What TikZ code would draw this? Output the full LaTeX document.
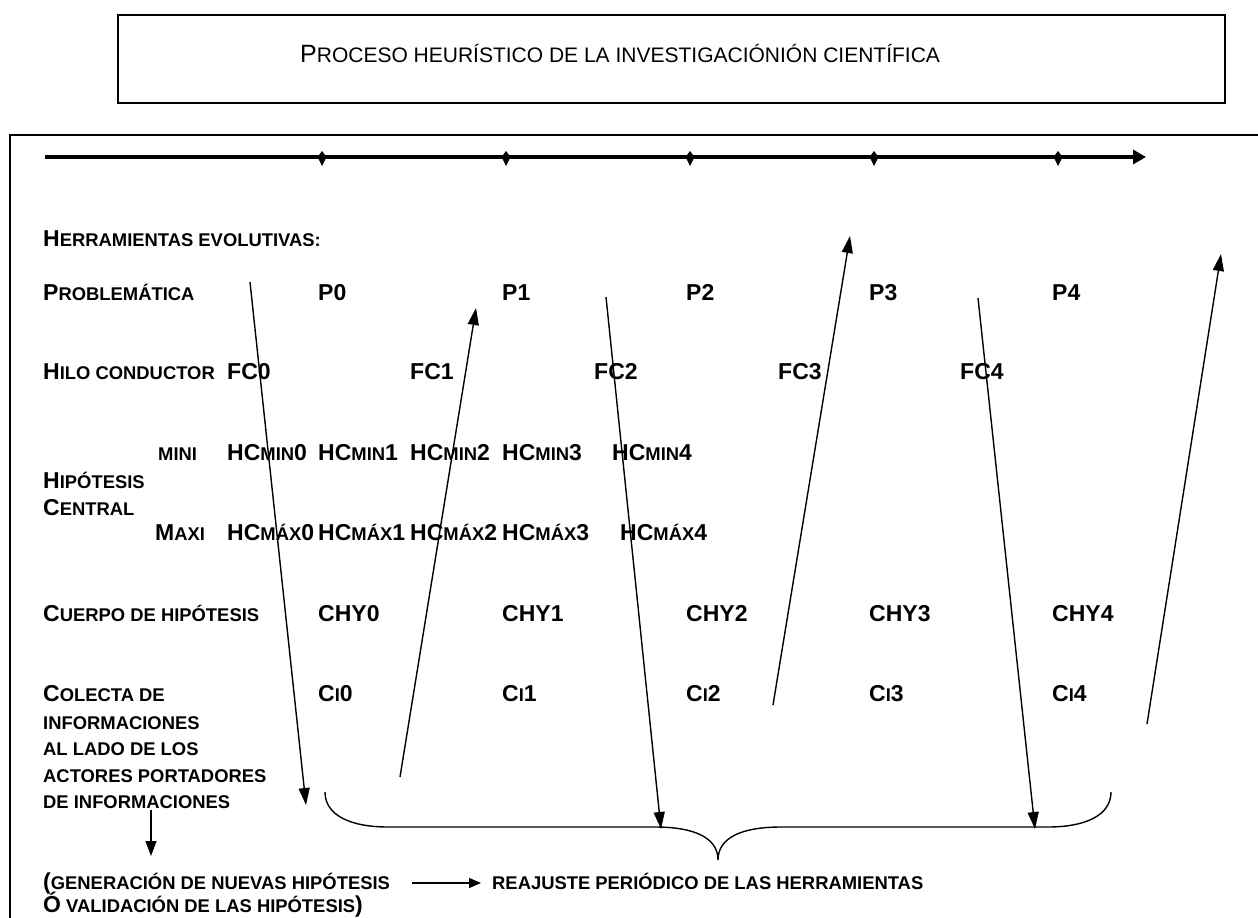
\documentclass[tikz,border=0pt]{standalone}
\usepackage{fontspec}
\setmainfont{Liberation Sans}
\usetikzlibrary{arrows.meta}
\tikzstyle{lbl} = [anchor=base west, inner sep=0pt, font=\bfseries\fontsize{23}{27}\selectfont]
\tikzstyle{titulo} = [anchor=base west, inner sep=0pt, font=\fontsize{25}{30}\selectfont]
\tikzstyle{flecha} = [line width=1.4pt, -{Triangle[width=11pt,length=17pt]}]
\tikzstyle{caja} = [line width=1.4pt]
\newcommand{\smc}[1]{{\fontsize{18.4}{21}\selectfont #1}}
\newcommand{\smt}[1]{{\fontsize{21}{24}\selectfont #1}}

\begin{document}
\begin{tikzpicture}[x=1pt,y=-1pt]
\useasboundingbox (0,0) rectangle (1258,918);

% title
\draw[caja] (118,15) rectangle (1225,103);
\node (tit) [titulo] at (300,62) {P\smt{ROCESO HEURÍSTICO DE LA INVESTIGACIÓNIÓN CIENTÍFICA}};

% main frame and time line
\draw[caja] (10,930) -- (10,135) -- (1270,135);
\coordinate (t0) at (45,157);
\coordinate (t1) at (1146,157);
\draw[line width=3.2pt, -{Triangle[width=14pt,length=13pt]}] (t0) -- (t1);
\foreach \x in {322,506,690,874,1058}
  \fill (\x,151) -- (\x+4.5,157) -- (\x,166) -- (\x-4.5,157) -- cycle;

% labels
\node (herr) [lbl] at (43,246) {H\smc{ERRAMIENTAS EVOLUTIVAS:}};
\node (prob) [lbl] at (43,300) {P\smc{ROBLEMÁTICA}};
\node (hilo) [lbl] at (43,379) {H\smc{ILO CONDUCTOR}};
\node (mini) [lbl] at (158,460) {\smc{MINI}};
\node (hip) [lbl] at (43,488) {H\smc{IPÓTESIS}};
\node (cen) [lbl] at (43,515) {C\smc{ENTRAL}};
\node (maxi) [lbl] at (155,540) {M\smc{AXI}};
\node (cue) [lbl] at (43,621) {C\smc{UERPO DE HIPÓTESIS}};
\node (col1) [lbl] at (43,701) {C\smc{OLECTA DE}};
\node (col2) [lbl] at (43,729) {\smc{INFORMACIONES}};
\node (col3) [lbl] at (43,755) {\smc{AL LADO DE LOS}};
\node (col4) [lbl] at (43,782) {\smc{ACTORES PORTADORES}};
\node (col5) [lbl] at (43,808) {\smc{DE INFORMACIONES}};
\node (gen1) [lbl] at (43,889) {(\smc{GENERACIÓN DE NUEVAS HIPÓTESIS}};
\node (gen2) [lbl] at (43,912) {Ó\smc{ VALIDACIÓN DE LAS HIPÓTESIS})};
\node (reaj) [lbl] at (492,889) {\smc{REAJUSTE PERIÓDICO DE LAS HERRAMIENTAS}};

% values
\node (p0) [lbl] at (318,300) {P0};
\node (p1) [lbl] at (502,300) {P1};
\node (p2) [lbl] at (686,300) {P2};
\node (p3) [lbl] at (869,300) {P3};
\node (p4) [lbl] at (1052,300) {P4};

\node (fc0) [lbl] at (227,379) {FC0};
\node (fc1) [lbl] at (410,379) {FC1};
\node (fc2) [lbl] at (594,379) {FC2};
\node (fc3) [lbl] at (778,379) {FC3};
\node (fc4) [lbl] at (960,379) {FC4};

\node (hmin0) [lbl] at (227,460) {HC\smc{MIN}0};
\node (hmin1) [lbl] at (318,460) {HC\smc{MIN}1};
\node (hmin2) [lbl] at (410,460) {HC\smc{MIN}2};
\node (hmin3) [lbl] at (502,460) {HC\smc{MIN}3};
\node (hmin4) [lbl] at (612,460) {HC\smc{MIN}4};

\node (hmax0) [lbl] at (227,540) {HC\smc{MÁX}0};
\node (hmax1) [lbl] at (318,540) {HC\smc{MÁX}1};
\node (hmax2) [lbl] at (410,540) {HC\smc{MÁX}2};
\node (hmax3) [lbl] at (502,540) {HC\smc{MÁX}3};
\node (hmax4) [lbl] at (620,540) {HC\smc{MÁX}4};

\node (chy0) [lbl] at (318,621) {CHY0};
\node (chy1) [lbl] at (502,621) {CHY1};
\node (chy2) [lbl] at (686,621) {CHY2};
\node (chy3) [lbl] at (869,621) {CHY3};
\node (chy4) [lbl] at (1052,621) {CHY4};

\node (ci0) [lbl] at (318,701) {C\smc{I}0};
\node (ci1) [lbl] at (502,701) {C\smc{I}1};
\node (ci2) [lbl] at (686,701) {C\smc{I}2};
\node (ci3) [lbl] at (869,701) {C\smc{I}3};
\node (ci4) [lbl] at (1052,701) {C\smc{I}4};

% zigzag arrows
\coordinate (a1) at (250,282);   \coordinate (b1) at (306,805);
\coordinate (a2) at (400,777);   \coordinate (b2) at (476,308);
\coordinate (a3) at (606,297);   \coordinate (b3) at (661,829);
\coordinate (a4) at (773,705);   \coordinate (b4) at (850,236);
\coordinate (a5) at (978,298);   \coordinate (b5) at (1035,829);
\coordinate (a6) at (1147,724);  \coordinate (b6) at (1221,254);
\draw[flecha] (a1) -- (b1);
\draw[flecha] (a2) -- (b2);
\draw[flecha] (a3) -- (b3);
\draw[flecha] (a4) -- (b4);
\draw[flecha] (a5) -- (b5);
\draw[flecha] (a6) -- (b6);

% brace
\coordinate (bl) at (325,792);
\coordinate (bm) at (718,860);
\coordinate (br) at (1111,792);
\draw[line width=1.4pt] (bl) .. controls (325,815) and (350,827) .. (388,827) -- (655,827)
  .. controls (695,827) and (718,838) .. (bm)
  .. controls (718,838) and (741,827) .. (781,827) -- (1048,827)
  .. controls (1086,827) and (1111,815) .. (br);

% small arrows
\coordinate (d0) at (151,810);
\coordinate (d1) at (151,856);
\draw[line width=1.4pt, -{Triangle[width=11pt,length=15pt]}] (d0) -- (d1);
\coordinate (r0) at (412,883);
\coordinate (r1) at (481,883);
\draw[line width=1.4pt, -{Triangle[width=10pt,length=12pt]}] (r0) -- (r1);
\end{tikzpicture}
\end{document}
